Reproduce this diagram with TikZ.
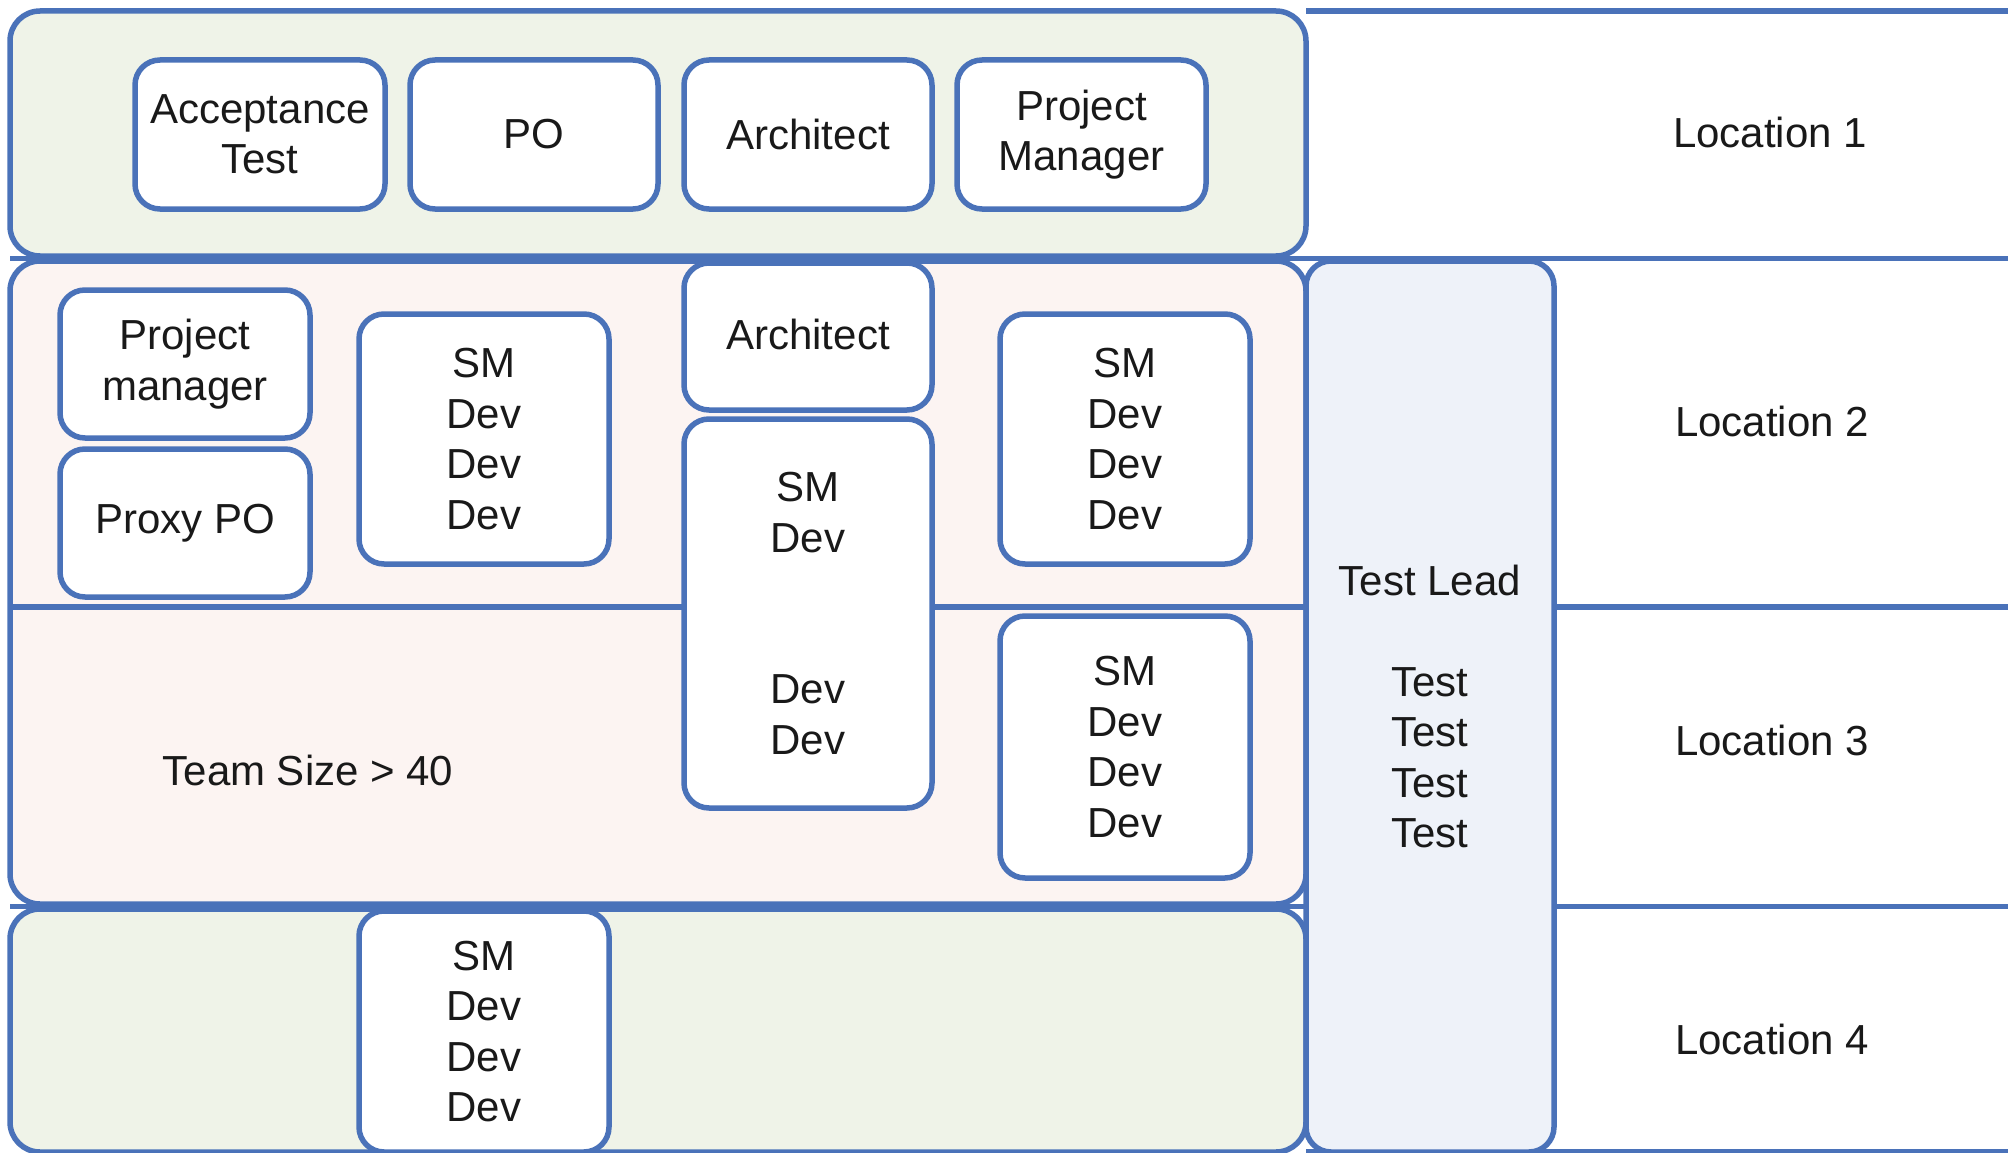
\documentclass[tikz,border=0pt]{standalone}
\usepackage{fontspec}
\setmainfont{Liberation Sans}
\definecolor{edgeblue}{RGB}{74,114,185}
\definecolor{greenfill}{RGB}{239,243,232}
\definecolor{pinkfill}{RGB}{252,244,242}
\definecolor{bluefill}{RGB}{238,242,249}
\definecolor{txt}{RGB}{25,25,25}
\tikzset{
  region/.style={draw=edgeblue, line width=5.5pt, rounded corners=30pt, inner sep=0pt, outer sep=0pt},
  role/.style={draw=edgeblue, fill=white, line width=5.5pt, rounded corners=25pt,
    align=center, inner sep=0pt, outer sep=0pt, text=txt,
    font=\fontsize{42}{50.5}\selectfont},
  sepline/.style={draw=edgeblue, line width=5.5pt},
  lbl/.style={font=\fontsize{42}{50.5}\selectfont, align=center, inner sep=0pt, text=txt}
}
\begin{document}
\begin{tikzpicture}[x=1pt,y=-1pt]
\useasboundingbox (0,0) rectangle (2011,1153);
\fill[white] (0,0) rectangle (2011,1153);

% location regions
\node[region, fill=greenfill, minimum width=1296pt, minimum height=245pt] (reg1) at (658,133.5) {};
\node[region, fill=pinkfill, minimum width=1296pt, minimum height=643pt] (reg23) at (658,582.5) {};
\node[region, fill=greenfill, minimum width=1296pt, minimum height=243pt] (reg4) at (658,1030.5) {};

% separator lines
\coordinate (t0) at (1306,11);   \coordinate (t1) at (2008,11);
\coordinate (a0) at (10,258.5);  \coordinate (a1) at (2008,258.5);
\coordinate (b0) at (10,607);    \coordinate (b1) at (2008,607);
\coordinate (c0) at (10,906.5);  \coordinate (c1) at (2008,906.5);
\coordinate (d0) at (1306,1152); \coordinate (d1) at (2008,1152);
\draw[sepline] (t0) -- (t1);
\draw[sepline] (a0) -- (a1);
\draw[sepline] (b0) -- (b1);
\draw[sepline] (c0) -- (c1);
\draw[sepline] (d0) -- (d1);

% test lead column
\node[role, fill=bluefill, minimum width=248pt, minimum height=891pt] (testlead) at (1430,706.5)
  {Test Lead\\\mbox{}\\Test\\Test\\Test\\Test};

% location 1
\node[role, minimum width=250pt, minimum height=149pt] (acc) at (260,134.5) {Acceptance\\Test};
\node[role, minimum width=248pt, minimum height=149pt] (po) at (534,134.5) {PO};
\node[role, minimum width=248pt, minimum height=149pt] (arch1) at (808,134.5) {Architect};
\node[role, minimum width=249pt, minimum height=149pt] (pm1) at (1081.5,134.5) {Project\\Manager};

% location 2 / 3
\node[role, minimum width=250pt, minimum height=148pt] (pm2) at (185,364) {Project\\manager};
\node[role, minimum width=250pt, minimum height=148pt] (proxy) at (185,523) {Proxy PO};
\node[role, minimum width=250pt, minimum height=250pt] (teamA) at (484,439) {SM\\Dev\\Dev\\Dev};
\node[role, minimum width=248pt, minimum height=147pt] (arch2) at (808,336.5) {\raisebox{5pt}{Architect}};
\node[role, minimum width=248pt, minimum height=389pt] (teamB) at (808,613.5) {SM\\Dev\\\mbox{}\\\mbox{}\\Dev\\Dev};
\node[role, minimum width=250pt, minimum height=250pt] (teamC) at (1125,439) {SM\\Dev\\Dev\\Dev};
\node[role, minimum width=250pt, minimum height=262pt] (teamD) at (1125,747) {SM\\Dev\\Dev\\Dev};
\node[lbl] (size) at (308,770) {Team Size > 40};

% location 4
\node[role, minimum width=250pt, minimum height=241pt] (teamE) at (484,1031.5) {SM\\Dev\\Dev\\Dev};

% location labels
\node[lbl] (loc1) at (1770,132) {Location 1};
\node[lbl] (loc2) at (1772,421) {Location 2};
\node[lbl] (loc3) at (1772,740) {Location 3};
\node[lbl] (loc4) at (1772,1039) {Location 4};
\end{tikzpicture}
\end{document}
